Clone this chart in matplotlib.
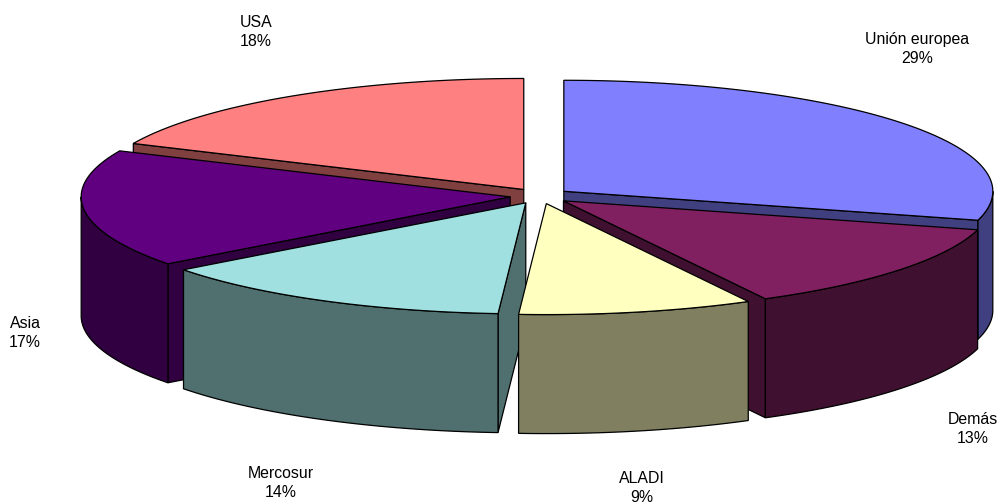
import numpy as np
import matplotlib
matplotlib.use('Agg')
import matplotlib.pyplot as plt
from matplotlib.patches import Polygon

plt.rcParams['font.family'] = ['Liberation Sans', 'DejaVu Sans']

# data, clockwise from 12 o'clock
labels = ['Unión europea', 'Demás', 'ALADI', 'Mercosur', 'Asia', 'USA']
shares = [29.2, 13.0, 8.83, 13.67, 17.1, 18.2]
top_colors = ['#8080FF', '#802060', '#FFFFC0', '#A0E0E0', '#600080', '#FF8080']
side_colors = ['#404080', '#401030', '#808060', '#507070', '#300040', '#804040']

# label anchors in pixels
label_pos = [(917, 49), (973, 429), (642, 488), (281, 483), (25, 333), (256, 32)]

# pie geometry in pixels
cx, cy = 540, 196
rx, ry = 429, 111
depth = 119
explode = 30
draw_order = [5, 0, 4, 1, 3, 2]

fig = plt.figure(figsize=(10.02, 5.04), dpi=100)
ax = fig.add_axes([0, 0, 1, 1])
ax.set_xlim(0, 1002)
ax.set_ylim(504, 0)
ax.axis('off')


def arc(x0, y0, t1, t2):
    t = np.radians(np.linspace(t1, t2, max(int(abs(t2 - t1)) * 2, 2)))
    return np.column_stack([x0 + rx * np.sin(t), y0 - ry * np.cos(t)])


def draw_slice(ax, t1, t2, top, side):
    mid = np.radians((t1 + t2) / 2)
    x0 = cx + explode * np.sin(mid)
    y0 = cy - explode * ry / rx * np.cos(mid)
    apex = np.array([x0, y0])
    down = np.array([0, depth])

    # radial walls, skip the ones turned away from us
    walls = []
    if np.sin(np.radians(t1)) < -1e-6:
        walls.append(t1)
    if np.sin(np.radians(t2)) > 1e-6:
        walls.append(t2)
    for t in walls:
        rim = arc(x0, y0, t, t)[0]
        wall = [apex, rim, rim + down, apex + down]
        ax.add_patch(Polygon(wall, fc=side, ec='black', lw=0.9))

    # outer wall, only the front half of the rim faces us
    a, b = max(t1, 90), min(t2, 270)
    if a < b:
        edge = arc(x0, y0, a, b)
        wall = np.vstack([edge, edge[::-1] + down])
        ax.add_patch(Polygon(wall, fc=side, ec='black', lw=0.9))

    surface = np.vstack([apex, arc(x0, y0, t1, t2)])
    ax.add_patch(Polygon(surface, fc=top, ec='black', lw=0.9))


edges = np.concatenate([[0], np.cumsum(shares)]) / sum(shares) * 360
for i in draw_order:
    draw_slice(ax, edges[i], edges[i + 1], top_colors[i], side_colors[i])

for name, share, (x, y) in zip(labels, shares, label_pos):
    ax.text(x, y, '{}\n{:.0f}%'.format(name, share), ha='center', va='center',
            fontsize=11.4, linespacing=1.3, color='black')

fig.savefig('out.png', dpi=100)
